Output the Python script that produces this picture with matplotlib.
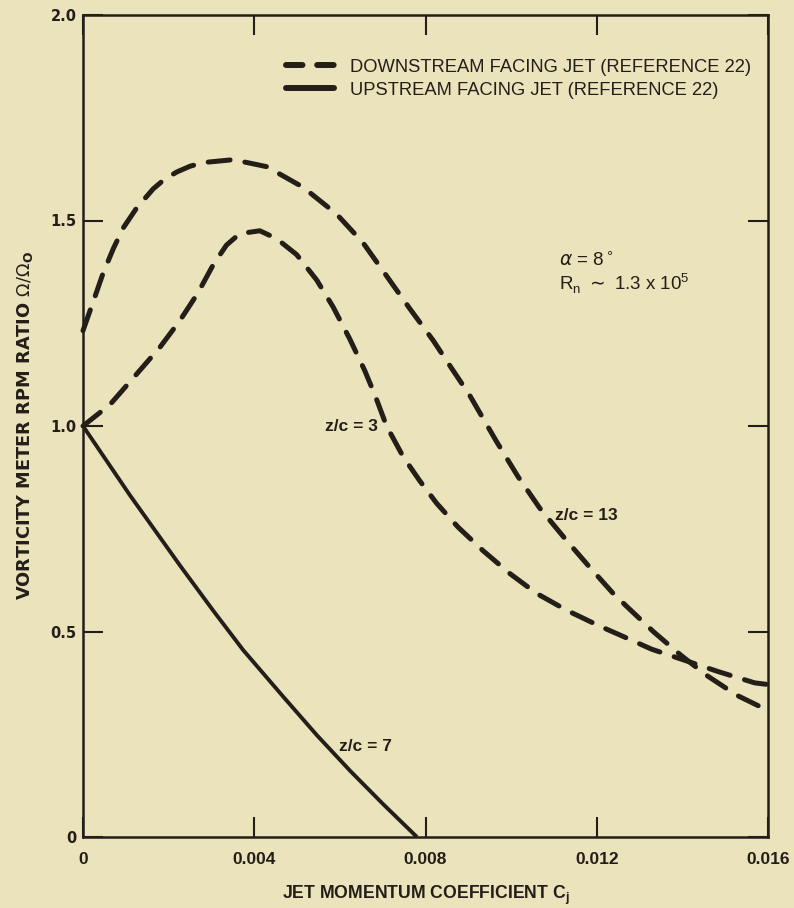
import matplotlib
matplotlib.use("Agg")
import matplotlib.pyplot as plt
from matplotlib.lines import Line2D

# ---- data ----
cj_z13 = [0, 0.00028, 0.00047, 0.00071, 0.00094, 0.00125, 0.00164, 0.0019, 0.00219,
          0.0025, 0.00281, 0.00351, 0.00429, 0.00514, 0.00592, 0.00654, 0.00763, 0.00818,
          0.0086, 0.00903, 0.00966, 0.01016, 0.01067, 0.01129, 0.01183, 0.01238, 0.0127,
          0.01333, 0.01398, 0.01457, 0.01527, 0.0158]
ratio_z13 = [1.232, 1.315, 1.372, 1.432, 1.482, 1.530, 1.577, 1.600, 1.618,
             1.632, 1.641, 1.648, 1.631, 1.581, 1.516, 1.446, 1.286, 1.208,
             1.142, 1.075, 0.962, 0.877, 0.80, 0.722, 0.657, 0.593, 0.561,
             0.499, 0.441, 0.393, 0.345, 0.318]

cj_z3 = [0, 0.00063, 0.00125, 0.0018, 0.00226, 0.00268, 0.00304, 0.00335, 0.00366,
         0.00413, 0.00452, 0.00499, 0.00546, 0.00584, 0.00623, 0.00658, 0.00682, 0.00709,
         0.00748, 0.00787, 0.00826, 0.00876, 0.00934, 0.00997, 0.01059, 0.01129, 0.01207,
         0.01253, 0.01328, 0.01408, 0.01485, 0.01569, 0.016]
ratio_z3 = [1.0, 1.052, 1.126, 1.192, 1.256, 1.323, 1.392, 1.440, 1.468,
            1.475, 1.456, 1.417, 1.355, 1.29, 1.212, 1.135, 1.075, 1.0,
            0.925, 0.866, 0.812, 0.754, 0.697, 0.641, 0.593, 0.552, 0.513,
            0.492, 0.457, 0.429, 0.402, 0.375, 0.371]

cj_z7 = [0, 0.0011, 0.00227, 0.00304, 0.00374, 0.00468, 0.00546, 0.00624, 0.00701, 0.0078]
ratio_z7 = [1.0, 0.831, 0.660, 0.551, 0.455, 0.341, 0.248, 0.161, 0.080, 0.0]

x_ticks = [0, 0.004, 0.008, 0.012, 0.016]
x_ticklabels = ["0", "0.004", "0.008", "0.012", "0.016"]
y_ticks = [0, 0.5, 1.0, 1.5, 2.0]
y_ticklabels = ["0", "0.5", "1.0", "1.5", "2.0"]

legend_labels = ["DOWNSTREAM FACING JET (REFERENCE 22)", "UPSTREAM FACING JET (REFERENCE 22)"]

BG = "#ebe3bc"
INK = "#231e18"
SANS = ["Liberation Sans", "DejaVu Sans"]
WIDE = ["DejaVu Sans"]

plt.rcParams["font.family"] = SANS
plt.rcParams["mathtext.fontset"] = "dejavusans"

fig = plt.figure(figsize=(7.94, 9.08), dpi=100, facecolor=BG)
ax = fig.add_axes([83 / 794, 1 - 837 / 908, 685 / 794, 822 / 908])
ax.set_facecolor(BG)

dash_curve = (0, (4.4, 3.0))
ax.plot(cj_z13, ratio_z13, color=INK, lw=3.6, linestyle=dash_curve,
        dash_capstyle="round", clip_on=False)
ax.plot(cj_z3, ratio_z3, color=INK, lw=3.6, linestyle=dash_curve,
        dash_capstyle="round", clip_on=False)
ax.plot(cj_z7, ratio_z7, color=INK, lw=2.8, solid_capstyle="butt")

ax.set_xlim(0, 0.016)
ax.set_ylim(0, 2.0)

for s in ax.spines.values():
    s.set_linewidth(1.8)
    s.set_color(INK)

ax.set_xticks(x_ticks)
ax.set_xticklabels(x_ticklabels, fontsize=12.5, fontweight="bold", family=SANS, color=INK)
ax.set_yticks(y_ticks)
ax.set_yticklabels(y_ticklabels, fontsize=10.5, fontweight="bold", family=WIDE, color=INK)
ax.tick_params(axis="both", which="major", direction="in", length=14.4, width=1.5,
               color=INK, top=True, right=True)
ax.tick_params(axis="x", pad=11)
ax.tick_params(axis="y", pad=4.5)

ax.set_xlabel(r"JET MOMENTUM COEFFICIENT C$_\mathregular{j}$", fontsize=12.7,
              fontweight="bold", family=SANS, color=INK, labelpad=12)
ax.set_ylabel(r"VORTICITY METER RPM RATIO $\Omega/\Omega_\mathregular{O}$", fontsize=12.8,
              fontweight="bold", family=WIDE, color=INK, labelpad=11)

handles = [
    Line2D([], [], color=INK, lw=4.3, linestyle=(0, (2.76, 2.46)), dash_capstyle="round"),
    Line2D([], [], color=INK, lw=4.3, solid_capstyle="round"),
]
leg = ax.legend(handles, legend_labels, loc="upper left", bbox_to_anchor=(0.2964, 0.947),
                frameon=False, fontsize=13.2, handlelength=2.62, handletextpad=0.85,
                labelspacing=0.34, borderpad=0, borderaxespad=0)
for t in leg.get_texts():
    t.set_color(INK)

ax.text(0.695, 0.702, r"$\alpha$ = 8$^\circ$", transform=ax.transAxes, fontsize=13.5,
        color=INK, ha="left", va="center")
ax.text(0.695, 0.673, r"R$_\mathregular{n}$ $\sim$ 1.3 x 10$^\mathregular{5}$",
        transform=ax.transAxes, fontsize=13.5, color=INK, ha="left", va="center")

ax.text(0.00565, 0.998, "z/c = 3", fontsize=12.5, fontweight="bold", color=INK,
        ha="left", va="center")
ax.text(0.01103, 0.783, "z/c = 13", fontsize=12.5, fontweight="bold", color=INK,
        ha="left", va="center")
ax.text(0.00598, 0.219, "z/c = 7", fontsize=12.5, fontweight="bold", color=INK,
        ha="left", va="center")

fig.savefig("out.png", dpi=100, facecolor=BG)
